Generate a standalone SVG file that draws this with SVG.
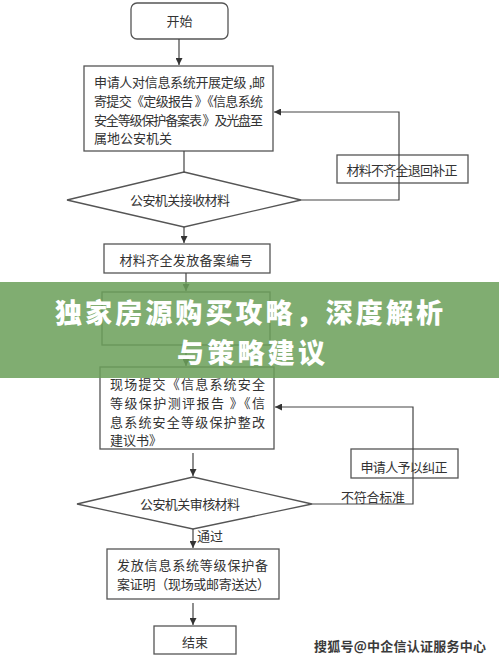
<svg xmlns="http://www.w3.org/2000/svg" width="499" height="660" viewBox="0 0 499 660">
<style>
.box{fill:#fff;stroke:#555;stroke-width:1.3}
.nf{fill:none;stroke:#555;stroke-width:1.3}
.ln{fill:none;stroke:#444;stroke-width:1.2}
.t{font-family:"Noto Sans CJK SC","Noto Sans",sans-serif;fill:#333;font-size:13px;dominant-baseline:central}
.c{text-anchor:middle}
.title{font-family:"Noto Sans CJK SC",sans-serif;font-weight:900;fill:#fff;font-size:27px;text-anchor:middle;dominant-baseline:central}
</style>
<defs>
<marker id="ah" viewBox="0 0 10 10" refX="10" refY="5" markerWidth="7" markerHeight="7" markerUnits="userSpaceOnUse" orient="auto">
<path d="M0,0 L10,5 L0,10 z" fill="#333"/>
</marker>
</defs>
<rect width="499" height="660" fill="#fff"/>

<g id="start">
<rect class="box" x="131" y="3" width="97" height="36" rx="6"/>
<text class="t c" x="179.5" y="20">开始</text>
</g>
<g id="apply">
<rect class="box" x="84" y="66" width="189" height="85"/>
<text class="t" x="94" y="81" textLength="171" lengthAdjust="spacing">申请人对信息系统开展定级 ,邮</text>
<text class="t" x="94" y="100" textLength="169" lengthAdjust="spacing">寄提交《定级报告 》《信息系统</text>
<text class="t" x="94" y="119" textLength="169" lengthAdjust="spacing">安全等级保护备案表 》及光盘至</text>
<text class="t" x="94" y="137">属地公安机关</text>
</g>
<g id="receive">
<polygon class="box" points="184,172 301,200 184,227 67,200"/>
<text class="t c" x="180" y="199" textLength="100" lengthAdjust="spacing">公安机关接收材料</text>
</g>
<g id="return">
<rect class="nf" x="337" y="155" width="131" height="28"/>
<text class="t c" x="402" y="169" textLength="111" lengthAdjust="spacing">材料不齐全退回补正</text>
</g>
<g id="issue-number">
<rect class="box" x="104" y="244" width="166" height="29"/>
<text class="t c" x="186" y="259" textLength="133" lengthAdjust="spacing">材料齐全发放备案编号</text>
</g>
<g id="hidden-step">
<rect class="box" x="102" y="292" width="168" height="53"/>
</g>
<g id="submit">
<rect class="box" x="100" y="367" width="174" height="82"/>
<text class="t" x="110" y="383" textLength="155" lengthAdjust="spacing">现场提交《信息系统安全</text>
<text class="t" x="110" y="402" textLength="155" lengthAdjust="spacing">等级保护测评报告 》《信</text>
<text class="t" x="110" y="421" textLength="155" lengthAdjust="spacing">息系统安全等级保护整改</text>
<text class="t" x="110" y="439">建议书》</text>
</g>
<g id="correct">
<rect class="nf" x="351" y="449" width="107" height="29"/>
<text class="t c" x="404" y="466" textLength="87" lengthAdjust="spacing">申请人予以纠正</text>
</g>
<g id="review">
<polygon class="box" points="193,477 312,504 193,529 77,504"/>
<text class="t c" x="190" y="503" textLength="100" lengthAdjust="spacing">公安机关审核材料</text>
</g>
<g id="certificate">
<rect class="box" x="107" y="549" width="172" height="50"/>
<text class="t" x="117" y="564" textLength="151" lengthAdjust="spacing">发放信息系统等级保护备</text>
<text class="t" x="117" y="583" textLength="153" lengthAdjust="spacing">案证明（现场或邮寄送达）</text>
</g>
<g id="end">
<rect class="box" x="154" y="626" width="82" height="28"/>
<text class="t c" x="195" y="641">结束</text>
</g>

<g id="connectors">
<line class="ln" x1="179" y1="39" x2="179" y2="65" marker-end="url(#ah)"/>
<line class="ln" x1="184" y1="151" x2="184" y2="172"/>
<line class="ln" x1="184" y1="227" x2="184" y2="243" marker-end="url(#ah)"/>
<polyline class="ln" points="301,200 399,200 399,112 274,112" marker-end="url(#ah)"/>
<line class="ln" x1="186" y1="273" x2="186" y2="291" marker-end="url(#ah)"/>
<line class="ln" x1="186" y1="345" x2="186" y2="366" marker-end="url(#ah)"/>
<line class="ln" x1="193" y1="453" x2="193" y2="476" marker-end="url(#ah)"/>
<polyline class="ln" points="312,504 413,504 413,407 275,407" marker-end="url(#ah)"/>
<text class="t" x="341" y="496" textLength="64" lengthAdjust="spacing">不符合标准</text>
<line class="ln" x1="193" y1="529" x2="193" y2="548" marker-end="url(#ah)"/>
<text class="t" x="197" y="535">通过</text>
<line class="ln" x1="193" y1="603" x2="193" y2="625" marker-end="url(#ah)"/>
</g>

<rect x="0" y="282" width="499" height="96" fill="#6ba05a" fill-opacity="0.86"/>
<text class="title" x="249" y="311" textLength="388" lengthAdjust="spacing">独家房源购买攻略，深度解析</text>
<text class="title" x="251" y="351" textLength="148" lengthAdjust="spacing">与策略建议</text>

<text class="t" x="314" y="645" style="fill:#3a3a3a;font-weight:bold" textLength="172" lengthAdjust="spacing">搜狐号@中企信认证服务中心</text>
</svg>
